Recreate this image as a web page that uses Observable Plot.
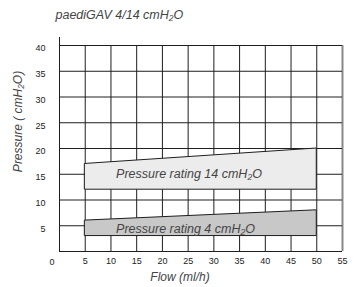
<!DOCTYPE html>
<html>
<head>
<meta charset="utf-8">
<script src="https://cdn.jsdelivr.net/npm/d3@7"></script>
<script src="https://cdn.jsdelivr.net/npm/@observablehq/plot@0.6"></script>
<style>
  body { margin: 0; background: #fff; }
  svg { font-family: "Liberation Sans", Arial, sans-serif; }
</style>
</head>
<body>
<div id="chart"></div>
<script>
const title = "paediGAV 4/14 cmH₂O";
const xLabel = "Flow (ml/h)";
const yLabel = "Pressure ( cmH₂O)";
const xTicks = [5, 10, 15, 20, 25, 30, 35, 40, 45, 50, 55];
const yTicks = [5, 10, 15, 20, 25, 30, 35, 40];
const flow = [5, 50];
const band14Low = [12, 12];
const band14High = [17, 20];
const band4Low = [3, 3];
const band4High = [6, 8];
const bandLabels = ["Pressure rating 14 cmH₂O", "Pressure rating 4 cmH₂O"];
const bandLabelFlow = [11, 11];
const bandLabelPressure = [15.1, 4.35];

const band14 = flow.map((x, i) => ({x, y1: band14Low[i], y2: band14High[i]}));
const band4 = flow.map((x, i) => ({x, y1: band4Low[i], y2: band4High[i]}));
const labels = bandLabels.map((t, i) => ({t, x: bandLabelFlow[i], y: bandLabelPressure[i]}));

const textColor = "#444";
const gridColor = "#1e1e1e";

const chart = Plot.plot({
  width: 354,
  height: 287,
  marginLeft: 59,
  marginRight: 12,
  marginTop: 45,
  marginBottom: 36,
  style: {fontFamily: "'Liberation Sans', Arial, sans-serif", background: "#fff"},
  x: {domain: [0, 55]},
  y: {domain: [0, 40]},
  marks: [
    // grid
    Plot.ruleX(xTicks.slice(0, -1), {y1: 0, y2: 40, stroke: gridColor, strokeWidth: 1}),
    Plot.ruleX(xTicks.slice(-1), {y1: 0, y2: 40, stroke: "#888", strokeWidth: 2}),
    Plot.ruleY(yTicks, {x1: 0, x2: 55, stroke: gridColor, strokeWidth: 1}),
    // bands
    Plot.areaY(band14, {x: "x", y1: "y1", y2: "y2", fill: "#ececec", stroke: gridColor, strokeWidth: 1}),
    Plot.areaY(band4, {x: "x", y1: "y1", y2: "y2", fill: "#c8c8c8", stroke: gridColor, strokeWidth: 1}),
    // axis lines
    Plot.ruleX([0], {stroke: gridColor, strokeWidth: 1, insetTop: -8}),
    Plot.ruleY([0], {stroke: gridColor, strokeWidth: 1}),
    // tick labels
    Plot.axisX(xTicks, {tickSize: 0, tickPadding: 6, fontSize: 9, color: "#222", label: null}),
    Plot.text([0], {x: d => d, frameAnchor: "bottom", dx: -7.5, dy: 11, text: d => String(d), fontSize: 9, fill: "#222", lineAnchor: "middle", textAnchor: "middle"}),
    Plot.axisY(yTicks, {tickSize: 0, tickPadding: 14, fontSize: 9, color: "#222", label: null, dy: 3}),
    // band labels
    Plot.text(labels, {x: "x", y: "y", text: "t", fontSize: 12.5, fontStyle: "italic", fill: textColor, textAnchor: "start", lineAnchor: "middle"}),
    // titles
    Plot.text([title], {frameAnchor: "top-left", dx: -4, dy: -31, textAnchor: "start", lineAnchor: "middle", text: d => d, fontSize: 12.5, fontStyle: "italic", fill: textColor}),
    Plot.text([xLabel], {frameAnchor: "bottom", dx: -21, dy: 26, textAnchor: "middle", lineAnchor: "middle", text: d => d, fontSize: 12, fontStyle: "italic", fill: textColor}),
    Plot.text([yLabel], {frameAnchor: "left", dx: -41, dy: -27, rotate: -90, textAnchor: "middle", lineAnchor: "middle", text: d => d, fontSize: 12, fontStyle: "italic", fill: textColor})
  ]
});
document.getElementById("chart").appendChild(chart);
</script>
</body>
</html>
